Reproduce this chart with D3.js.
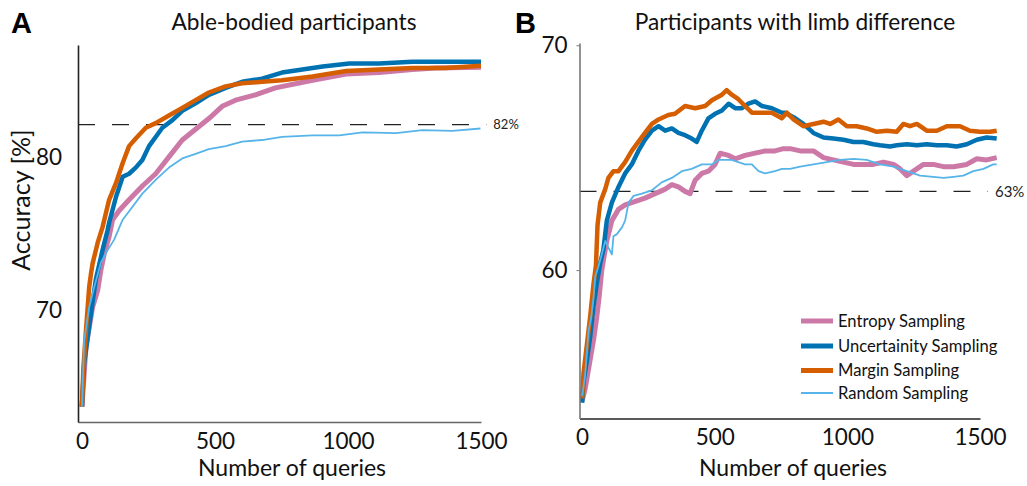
<!DOCTYPE html>
<html>
<head>
<meta charset="utf-8">
<script src="https://cdn.jsdelivr.net/npm/d3@7"></script>
<style>
  html, body { margin: 0; padding: 0; background: #fff; }
  svg { display: block; font-family: Lato, "Open Sans", sans-serif; }
</style>
</head>
<body>
<div id="chart"></div>
<script>
// values, [queries, accuracy %]
const entropyA = [[0,63.7],[15,67.6],[40,70.2],[59,71.3],[71,72.6],[84,73.7],[102,74.8],[115,75.9],[140,76.5],[177,77.2],[227,78.1],[277,78.9],[327,80.0],[377,81.1],[427,81.8],[477,82.5],[527,83.3],[577,83.7],[652,84.05],[727,84.5],[867,85.0],[993,85.4],[1117,85.5],[1242,85.7],[1330,85.8],[1500,85.85]]
const uncertaintyA = [[0,63.7],[8,66.5],[34,69.8],[52,72.0],[77,73.9],[96,75.2],[102,75.7],[128,77.4],[153,78.7],[177,78.9],[202,79.3],[227,79.8],[252,80.7],[277,81.3],[302,81.9],[340,82.4],[377,83.0],[427,83.5],[477,84.05],[540,84.5],[602,84.9],[677,85.1],[752,85.5],[905,85.9],[1005,86.1],[1117,86.1],[1242,86.2],[1405,86.2],[1500,86.2]]
const marginA = [[0,63.7],[5,66.1],[15,68.7],[27,71.5],[34,72.4],[40,73.05],[59,74.4],[77,75.4],[102,77.2],[128,78.3],[153,79.6],[177,80.7],[202,81.2],[240,81.9],[277,82.2],[327,82.7],[377,83.2],[427,83.7],[477,84.2],[540,84.6],[602,84.8],[677,84.9],[752,85.0],[867,85.25],[993,85.6],[1117,85.7],[1242,85.8],[1367,85.8],[1500,85.95]]
const randomA = [[0,63.7],[8,68.0],[27,70.2],[46,71.5],[71,73.1],[96,73.9],[121,74.6],[153,75.9],[190,76.75],[227,77.6],[277,78.5],[327,79.3],[377,79.9],[427,80.2],[477,80.5],[540,80.7],[602,81.0],[677,81.1],[752,81.3],[867,81.4],[967,81.4],[1055,81.6],[1180,81.55],[1280,81.75],[1392,81.7],[1498,81.85]]

const entropyB = [[0,54.2],[11,54.7],[30,56.0],[43,56.9],[55,57.9],[64,58.8],[74,60.0],[87,60.9],[93,61.3],[112,62.2],[137,62.7],[162,62.9],[187,63.0],[212,63.1],[237,63.2],[275,63.4],[313,63.6],[338,63.8],[363,63.7],[388,63.5],[407,63.4],[426,64.0],[451,64.3],[476,64.4],[501,64.7],[520,65.2],[552,65.1],[577,64.95],[614,65.1],[652,65.2],[690,65.3],[727,65.3],[759,65.4],[784,65.4],[822,65.3],[872,65.3],[910,65.0],[947,64.9],[985,64.8],[1023,64.7],[1060,64.7],[1098,64.7],[1136,64.8],[1174,64.7],[1199,64.5],[1224,64.2],[1249,64.4],[1287,64.7],[1324,64.7],[1362,64.6],[1400,64.6],[1450,64.7],[1488,64.95],[1525,64.9],[1563,65.0]]
const uncertaintyB = [[0,54.1],[5,55.0],[18,56.0],[30,57.0],[43,58.4],[55,59.4],[68,60.3],[80,60.9],[93,62.2],[112,63.0],[137,63.7],[162,64.3],[187,64.7],[212,65.3],[237,65.8],[263,66.2],[288,66.4],[313,66.2],[338,66.3],[363,66.1],[388,66.0],[413,65.85],[432,65.7],[451,66.2],[476,66.75],[501,66.95],[527,67.1],[552,67.4],[577,67.2],[602,67.2],[627,67.4],[652,67.5],[677,67.3],[715,67.2],[753,67.0],[765,67.0],[797,66.8],[834,66.5],[872,66.1],[910,65.9],[947,65.85],[985,65.8],[1023,65.7],[1060,65.7],[1098,65.6],[1123,65.55],[1161,65.5],[1186,65.55],[1224,65.6],[1262,65.55],[1299,65.6],[1337,65.55],[1375,65.55],[1412,65.5],[1450,65.6],[1488,65.8],[1525,65.9],[1563,65.85]]
const marginB = [[0,54.3],[5,55.4],[18,56.7],[30,57.9],[43,59.4],[52,60.2],[58,62.0],[68,63.0],[87,63.6],[99,64.1],[118,64.4],[137,64.4],[162,64.8],[187,65.3],[212,65.7],[237,66.1],[263,66.5],[288,66.7],[325,66.9],[350,66.95],[388,67.3],[426,67.2],[464,67.3],[489,67.55],[527,67.8],[545,68.0],[564,67.8],[589,67.6],[614,67.3],[640,67.0],[677,67.0],[715,67.0],[753,66.75],[772,67.0],[797,66.7],[834,66.4],[872,66.5],[910,66.6],[935,66.5],[966,66.7],[998,66.4],[1035,66.4],[1073,66.3],[1111,66.15],[1149,66.2],[1186,66.15],[1211,66.5],[1236,66.4],[1262,66.5],[1299,66.2],[1337,66.2],[1375,66.4],[1425,66.4],[1462,66.2],[1500,66.15],[1538,66.15],[1563,66.2]]
const randomB = [[0,54.4],[11,55.3],[18,56.4],[24,57.3],[34,57.9],[43,58.8],[49,59.7],[61,60.15],[74,60.7],[87,61.3],[99,61.0],[112,60.7],[118,61.5],[131,61.6],[150,61.9],[162,62.2],[175,63.0],[194,63.3],[225,63.4],[263,63.55],[300,63.9],[338,64.1],[376,64.4],[413,64.5],[451,64.7],[489,64.7],[514,64.9],[539,64.9],[564,64.9],[589,64.8],[614,64.7],[640,64.7],[665,64.4],[690,64.3],[727,64.4],[753,64.5],[784,64.5],[822,64.6],[872,64.7],[922,64.8],[972,64.9],[1023,64.95],[1073,64.9],[1123,64.7],[1174,64.6],[1224,64.4],[1274,64.2],[1324,64.15],[1362,64.1],[1400,64.15],[1437,64.2],[1475,64.4],[1513,64.5],[1550,64.7],[1563,64.7]]

const seriesNames = ["Entropy Sampling", "Uncertainity Sampling", "Margin Sampling", "Random Sampling"]
const seriesColours = ["#cc79a7", "#0072b2", "#d55e00", "#56b4e9"]
const seriesWidths = [5, 4.5, 4.5, 1.8]
const drawOrder = [0, 1, 2, 3]

const xTicks = [0, 500, 1000, 1500]
const yTicksA = [70, 80]
const yTicksB = [60, 70]
const refA = 82.1, refLabelA = "82%"
const refB = 63.5, refLabelB = "63%"

const W = 1027, H = 486

const svg = d3.select("#chart").append("svg")
    .attr("width", W).attr("height", H)

function panel(opts) {
    const x = d3.scaleLinear().domain(opts.xDomain).range(opts.xRange)
    const y = d3.scaleLinear().domain(opts.yDomain).range(opts.yRange)
    const g = svg.append("g")

    // reference line
    g.append("line")
        .attr("x1", opts.xRange[0]).attr("x2", x(opts.refEnd))
        .attr("y1", y(opts.ref)).attr("y2", y(opts.ref))
        .attr("stroke", "#222").attr("stroke-width", 1.3)
        .attr("stroke-dasharray", "17,17")
    g.append("text")
        .attr("x", x(opts.refEnd) + 7).attr("y", y(opts.ref))
        .attr("dy", "0.35em")
        .attr("font-size", opts.refSize).attr("fill", "#222")
        .text(opts.refLabel)

    const line = d3.line().x((d) => x(d[0])).y((d) => y(d[1]))
    drawOrder.forEach((i) => {
        g.append("path")
            .datum(opts.series[i])
            .attr("d", line)
            .attr("fill", "none")
            .attr("stroke", seriesColours[i])
            .attr("stroke-width", seriesWidths[i])
            .attr("stroke-linejoin", "round")
    })

    const xAxis = g.append("g")
        .attr("transform", "translate(0," + opts.yRange[0] + ")")
        .call(d3.axisBottom(x).tickValues(xTicks).tickFormat(d3.format("d"))
            .tickSize(0).tickPadding(11).tickSizeOuter(0))
    xAxis.select(".domain").attr("stroke", opts.xAxisColour).attr("stroke-width", 1.6)
    xAxis.selectAll("text").attr("font-size", 22.5).attr("fill", "#111")
        .attr("font-family", "Lato, sans-serif")

    const yAxis = g.append("g")
        .attr("transform", "translate(" + opts.xRange[0] + ",0)")
        .call(d3.axisLeft(y).tickValues(opts.yTicks).tickSize(opts.yTickSize).tickPadding(opts.yPad).tickSizeOuter(0))
    yAxis.select(".domain").attr("stroke", opts.yAxisColour).attr("stroke-width", 1.6)
    yAxis.selectAll("line").attr("stroke", opts.yAxisColour)
    yAxis.selectAll("text").attr("font-size", 22.5).attr("fill", "#111")
        .attr("font-family", "Lato, sans-serif")

    g.append("text")
        .attr("x", opts.titleX).attr("y", 30)
        .attr("text-anchor", "middle").attr("font-size", 22.7).attr("fill", "#111")
        .text(opts.title)
    g.append("text")
        .attr("x", opts.letterX).attr("y", 33)
        .attr("font-size", 29).attr("font-weight", "bold").attr("fill", "#000")
        .attr("font-family", "Arial, 'Liberation Sans', sans-serif")
        .text(opts.letter)
    g.append("text")
        .attr("x", opts.xTitleX).attr("y", 476)
        .attr("text-anchor", "middle").attr("font-size", 23).attr("fill", "#111")
        .text("Number of queries")
    return { x, y, g }
}

panel({
    series: [entropyA, uncertaintyA, marginA, randomA],
    xDomain: [-15, 1500], xRange: [78, 481],
    yDomain: [62.7, 87.3], yRange: [422, 45],
    yTicks: yTicksA, yTickSize: 0, yPad: 16,
    ref: refA, refLabel: refLabelA, refEnd: 1520, refSize: 13,
    xAxisColour: "#666", yAxisColour: "#222",
    title: "Able-bodied participants", titleX: 294,
    letter: "A", letterX: 11, xTitleX: 292,
})

panel({
    series: [entropyB, uncertaintyB, marginB, randomB],
    xDomain: [-10, 1500], xRange: [579.5, 980],
    yDomain: [53.4, 70.1], yRange: [418.5, 43],
    yTicks: yTicksB, yTickSize: 3, yPad: 9,
    ref: refB, refLabel: refLabelB, refEnd: 1530, refSize: 15,
    xAxisColour: "#222", yAxisColour: "#777",
    title: "Participants with limb difference", titleX: 795,
    letter: "B", letterX: 515, xTitleX: 793,
})

svg.append("text")
    .attr("transform", "translate(30,200) rotate(-90)")
    .attr("text-anchor", "middle").attr("font-size", 25).attr("fill", "#111")
    .text("Accuracy [%]")

// legend inside panel B
const legend = svg.append("g").attr("transform", "translate(801,321)")
seriesNames.forEach((name, i) => {
    const row = legend.append("g").attr("transform", "translate(0," + [0, 25, 49.5, 72][i] + ")")
    row.append("line")
        .attr("x1", 0).attr("x2", 32)
        .attr("stroke", seriesColours[i])
        .attr("stroke-width", i === 3 ? 2 : 5)
    row.append("text")
        .attr("x", 37).attr("dy", "0.35em")
        .attr("font-size", 16.6).attr("fill", "#111")
        .text(name)
})
</script>
</body>
</html>
